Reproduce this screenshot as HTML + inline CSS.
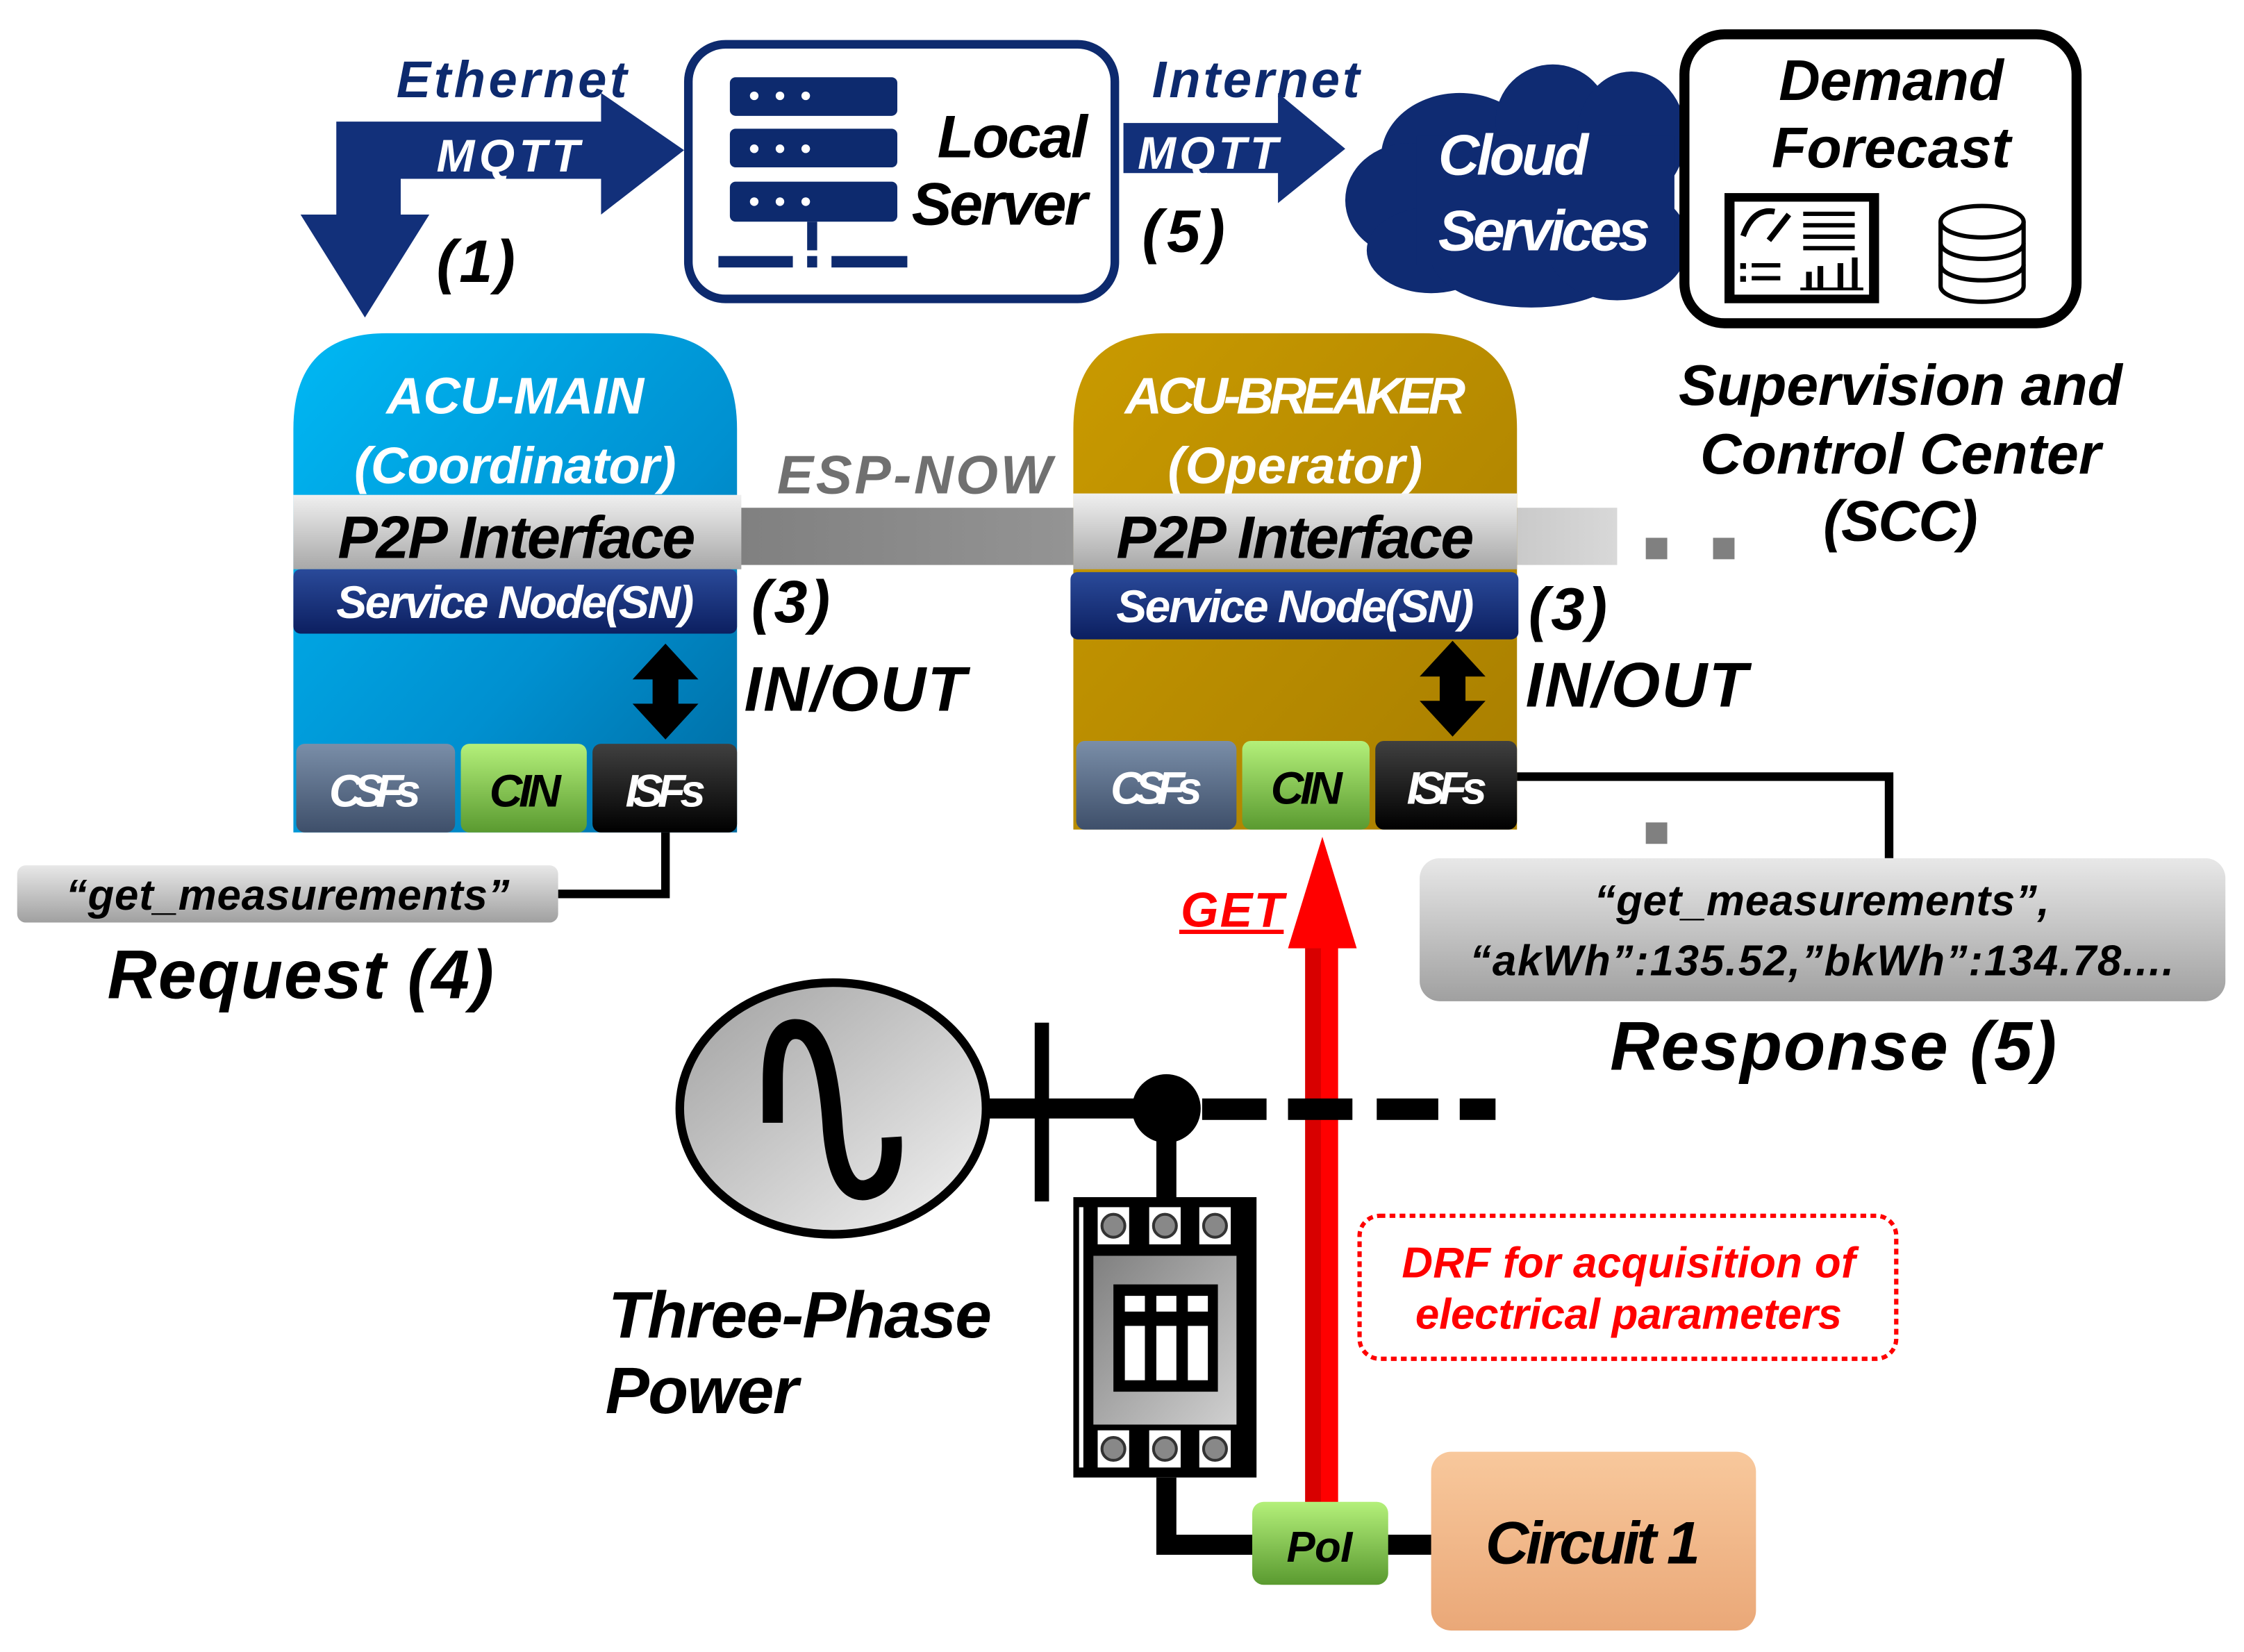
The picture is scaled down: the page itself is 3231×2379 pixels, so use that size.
<!DOCTYPE html>
<html><head><meta charset="utf-8"><style>
html,body{margin:0;padding:0;background:#fff;}
svg{display:block;}
text{font-family:"Liberation Sans Narrow","Liberation Sans",sans-serif;font-weight:bold;font-style:italic;}
</style></head><body>
<svg width="3231" height="2379" viewBox="0 0 1568 1155" preserveAspectRatio="none" xmlns="http://www.w3.org/2000/svg">
<defs>
<linearGradient id="cy" x1="0" y1="0" x2="1" y2="1"><stop offset="0" stop-color="#00b8f4"/><stop offset="0.6" stop-color="#0090d0"/><stop offset="1" stop-color="#006aa0"/></linearGradient>
<linearGradient id="gd" x1="0" y1="0" x2="1" y2="1"><stop offset="0" stop-color="#c99a00"/><stop offset="1" stop-color="#a87e00"/></linearGradient>
<linearGradient id="p2p" x1="0" y1="0" x2="0" y2="1"><stop offset="0" stop-color="#f0f0f0"/><stop offset="1" stop-color="#a8a8a8"/></linearGradient>
<linearGradient id="sn" x1="0" y1="0" x2="0" y2="1"><stop offset="0" stop-color="#2a4a9a"/><stop offset="1" stop-color="#0c1f60"/></linearGradient>
<linearGradient id="csf" x1="0" y1="0" x2="0" y2="1"><stop offset="0" stop-color="#7a8ea8"/><stop offset="1" stop-color="#3e4f6a"/></linearGradient>
<linearGradient id="cin" x1="0" y1="0" x2="0" y2="1"><stop offset="0" stop-color="#b4f07a"/><stop offset="1" stop-color="#5a9a30"/></linearGradient>
<linearGradient id="isf" x1="0" y1="0" x2="0" y2="1"><stop offset="0" stop-color="#404040"/><stop offset="1" stop-color="#000"/></linearGradient>
<linearGradient id="band" x1="0" y1="0" x2="1" y2="0"><stop offset="0" stop-color="#808080"/><stop offset="0.5" stop-color="#9a9a9a"/><stop offset="1" stop-color="#d8d8d8"/></linearGradient>
<linearGradient id="bub" x1="0" y1="0" x2="0" y2="1"><stop offset="0" stop-color="#e8e8e8"/><stop offset="1" stop-color="#a0a0a0"/></linearGradient>
<linearGradient id="gen" x1="0" y1="0" x2="1" y2="1"><stop offset="0" stop-color="#a0a0a0"/><stop offset="1" stop-color="#f4f4f4"/></linearGradient>
<linearGradient id="peach" x1="0" y1="0" x2="0" y2="1"><stop offset="0" stop-color="#f8c89c"/><stop offset="1" stop-color="#eaa878"/></linearGradient>
<linearGradient id="brk" x1="0" y1="0" x2="1" y2="1"><stop offset="0" stop-color="#808080"/><stop offset="1" stop-color="#d0d0d0"/></linearGradient>
</defs>

<!-- Ethernet arrow -->
<text x="277" y="68" font-size="36" fill="#0d2a6e" textLength="161">Ethernet</text>
<path d="M235,85 L420,85 L420,65 L478,105 L420,150 L420,125 L280,125 L280,150 L300,150 L255,222 L210,150 L235,150 Z" fill="#12307a"/>
<text x="305" y="120" font-size="32" fill="#fff" textLength="100">MQTT</text>
<text x="305" y="197" font-size="42" fill="#000" textLength="55">(1)</text>

<!-- Local server -->
<rect x="481" y="31" width="298" height="178" rx="26" fill="#fff" stroke="#0d2a6e" stroke-width="6"/>
<g fill="#0d2a6e">
<rect x="510" y="54" width="117" height="27" rx="4"/>
<rect x="510" y="90" width="117" height="27" rx="4"/>
<rect x="510" y="127" width="117" height="28" rx="4"/>
<rect x="564" y="155" width="7" height="20"/>
<rect x="502" y="179" width="52" height="8"/><rect x="564" y="179" width="7" height="8"/><rect x="581" y="179" width="53" height="8"/>
</g>
<g fill="#fff"><circle cx="527" cy="67" r="3"/><circle cx="545" cy="67" r="3"/><circle cx="563" cy="67" r="3"/>
<circle cx="527" cy="104" r="3"/><circle cx="545" cy="104" r="3"/><circle cx="563" cy="104" r="3"/>
<circle cx="527" cy="141" r="3"/><circle cx="545" cy="141" r="3"/><circle cx="563" cy="141" r="3"/></g>
<text x="655" y="110" font-size="42" fill="#000" textLength="105">Local</text>
<text x="637" y="157" font-size="42" fill="#000" textLength="123">Server</text>

<!-- Internet arrow -->
<text x="805" y="68" font-size="36" fill="#0d2a6e" textLength="145">Internet</text>
<path d="M785,86 L893,86 L893,65 L940,104 L893,142 L893,121 L785,121 Z" fill="#12307a"/>
<text x="795" y="118" font-size="32" fill="#fff" textLength="98">MQTT</text>
<text x="798" y="176" font-size="42" fill="#000" textLength="58">(5)</text>

<!-- Cloud -->
<g fill="#0f2b72">
<ellipse cx="1020" cy="110" rx="55" ry="45"/>
<ellipse cx="1085" cy="85" rx="40" ry="40"/>
<ellipse cx="1140" cy="95" rx="38" ry="45"/>
<ellipse cx="985" cy="140" rx="45" ry="40"/>
<ellipse cx="1000" cy="175" rx="45" ry="30"/>
<ellipse cx="1070" cy="180" rx="70" ry="35"/>
<ellipse cx="1130" cy="170" rx="50" ry="40"/>
<rect x="990" y="95" width="180" height="90"/>
</g>
<text x="1005" y="122" font-size="40" fill="#fff" textLength="105">Cloud</text>
<text x="1005" y="175" font-size="40" fill="#fff" textLength="148">Services</text>

<!-- Demand forecast -->
<rect x="1177" y="24" width="274" height="202" rx="28" fill="#fff" stroke="#000" stroke-width="7"/>
<text x="1243" y="70" font-size="40" fill="#000" textLength="157">Demand</text>
<text x="1238" y="117" font-size="40" fill="#000" textLength="167">Forecast</text>
<rect x="1205" y="135" width="108" height="77" fill="#000"/>
<rect x="1212" y="141" width="94" height="65" fill="#fff"/>
<path d="M1218,165 Q1225,145 1240,148 M1236,168 L1250,150" stroke="#000" stroke-width="4" fill="none"/>
<g fill="#000"><rect x="1260" y="148" width="36" height="3"/><rect x="1260" y="156" width="36" height="3"/><rect x="1260" y="164" width="36" height="3"/><rect x="1260" y="172" width="36" height="3"/>
<rect x="1216" y="184" width="4" height="4"/><rect x="1224" y="184" width="20" height="3"/><rect x="1216" y="193" width="4" height="4"/><rect x="1224" y="193" width="20" height="3"/>
<rect x="1262" y="190" width="4" height="12"/><rect x="1270" y="186" width="4" height="16"/><rect x="1284" y="184" width="4" height="18"/><rect x="1294" y="180" width="4" height="22"/><rect x="1258" y="201" width="44" height="2"/></g>
<g fill="none" stroke="#000" stroke-width="3">
<ellipse cx="1385" cy="155" rx="29" ry="11"/>
<path d="M1356,155 V200 A29,11 0 0 0 1414,200 V155"/>
<path d="M1356,170 A29,11 0 0 0 1414,170"/><path d="M1356,185 A29,11 0 0 0 1414,185"/>
</g>
<text x="1328" y="283" font-size="40" fill="#000" text-anchor="middle" textLength="310">Supervision and</text>
<text x="1328" y="331" font-size="40" fill="#000" text-anchor="middle" textLength="280">Control Center</text>
<text x="1328" y="378" font-size="40" fill="#000" text-anchor="middle" textLength="108">(SCC)</text>

<!-- ESP-NOW band -->
<rect x="515" y="355" width="615" height="40" fill="url(#band)"/>
<text x="543" y="345" font-size="38" fill="#707070" textLength="192">ESP-NOW</text>
<rect x="1150" y="376" width="15" height="15" fill="#808080"/>
<rect x="1197" y="376" width="15" height="15" fill="#808080"/>
<rect x="1150" y="575" width="15" height="15" fill="#808080"/>

<!-- ACU-MAIN -->
<path d="M205,582 V300 Q205,233 270,233 H450 Q515,233 515,300 V582 Z" fill="url(#cy)"/>
<text x="360" y="289" font-size="36" fill="#fff" text-anchor="middle" textLength="180">ACU-MAIN</text>
<text x="360" y="338" font-size="36" fill="#fff" text-anchor="middle" textLength="225">(Coordinator)</text>
<rect x="205" y="346" width="313" height="52" fill="url(#p2p)"/>
<text x="361" y="390" font-size="42" fill="#000" text-anchor="middle" textLength="250">P2P Interface</text>
<rect x="205" y="398" width="310" height="45" rx="5" fill="url(#sn)"/>
<text x="360" y="432" font-size="32" fill="#fff" text-anchor="middle" textLength="250">Service Node(SN)</text>
<path d="M465,450 L488,475 L474,475 L474,492 L488,492 L465,517 L442,492 L456,492 L456,475 L442,475 Z" fill="#000"/>
<rect x="207" y="520" width="111" height="62" rx="6" fill="url(#csf)"/>
<rect x="322" y="520" width="88" height="62" rx="6" fill="url(#cin)"/>
<rect x="414" y="520" width="101" height="62" rx="6" fill="url(#isf)"/>
<text x="262" y="564" font-size="32" fill="#fff" text-anchor="middle" textLength="64">CSFs</text>
<text x="367" y="564" font-size="32" fill="#000" text-anchor="middle" textLength="50">CIN</text>
<text x="465" y="564" font-size="32" fill="#fff" text-anchor="middle" textLength="56">ISFs</text>
<text x="525" y="435" font-size="42" fill="#000" textLength="55">(3)</text>
<text x="520" y="497" font-size="44" fill="#000" textLength="155">IN/OUT</text>

<!-- ACU-BREAKER -->
<path d="M750,580 V300 Q750,233 815,233 H995 Q1060,233 1060,300 V580 Z" fill="url(#gd)"/>
<text x="905" y="289" font-size="36" fill="#fff" text-anchor="middle" textLength="238">ACU-BREAKER</text>
<text x="905" y="338" font-size="36" fill="#fff" text-anchor="middle" textLength="178">(Operator)</text>
<rect x="750" y="345" width="310" height="53" fill="url(#p2p)"/>
<text x="905" y="390" font-size="42" fill="#000" text-anchor="middle" textLength="250">P2P Interface</text>
<rect x="748" y="400" width="313" height="47" rx="5" fill="url(#sn)"/>
<text x="905" y="435" font-size="32" fill="#fff" text-anchor="middle" textLength="250">Service Node(SN)</text>
<path d="M1015,448 L1038,473 L1024,473 L1024,490 L1038,490 L1015,515 L992,490 L1006,490 L1006,473 L992,473 Z" fill="#000"/>
<rect x="752" y="518" width="112" height="62" rx="6" fill="url(#csf)"/>
<rect x="868" y="518" width="89" height="62" rx="6" fill="url(#cin)"/>
<rect x="961" y="518" width="99" height="62" rx="6" fill="url(#isf)"/>
<text x="808" y="562" font-size="32" fill="#fff" text-anchor="middle" textLength="64">CSFs</text>
<text x="913" y="562" font-size="32" fill="#000" text-anchor="middle" textLength="50">CIN</text>
<text x="1011" y="562" font-size="32" fill="#fff" text-anchor="middle" textLength="56">ISFs</text>
<text x="1068" y="440" font-size="42" fill="#000" textLength="55">(3)</text>
<text x="1066" y="494" font-size="44" fill="#000" textLength="155">IN/OUT</text>

<!-- connectors -->
<path d="M1060,543 H1320 V600" stroke="#000" stroke-width="6" fill="none"/>
<path d="M465,582 V625 H390" stroke="#000" stroke-width="6" fill="none"/>

<!-- Request -->
<rect x="12" y="605" width="378" height="40" rx="6" fill="url(#bub)"/>
<text x="201" y="636" font-size="30" fill="#000" text-anchor="middle" textLength="310">“get_measurements”</text>
<text x="75" y="698" font-size="48" fill="#000" textLength="270">Request (4)</text>

<!-- Response -->
<rect x="992" y="600" width="563" height="100" rx="14" fill="url(#bub)"/>
<text x="1273" y="640" font-size="30" fill="#000" text-anchor="middle" textLength="318">“get_measurements”,</text>
<text x="1273" y="682" font-size="30" fill="#000" text-anchor="middle" textLength="492">“akWh”:135.52,”bkWh”:134.78....</text>
<text x="1125" y="748" font-size="48" fill="#000" textLength="312">Response (5)</text>

<!-- GET red arrow -->
<text x="825" y="648" font-size="34" fill="#f00" textLength="72">GET</text>
<rect x="824" y="650" width="73" height="3" fill="#f00"/>
<rect x="912" y="660" width="23" height="392" fill="#f00"/>
<rect x="912" y="660" width="11" height="392" fill="#d80000"/>
<path d="M900,663 L924,585 L948,663 Z" fill="#f00"/>

<!-- Generator -->
<ellipse cx="582" cy="775" rx="107" ry="88" fill="url(#gen)" stroke="#000" stroke-width="6"/>
<path d="M540,785 V755 Q540,715 560,720 Q578,725 582,790 Q586,835 605,832 Q625,828 623,795" stroke="#000" stroke-width="14" fill="none"/>
<rect x="723" y="715" width="10" height="125" fill="#000"/>
<rect x="690" y="768" width="125" height="14" fill="#000"/>
<circle cx="815" cy="775" r="24" fill="#000"/>
<g fill="#000"><rect x="840" y="768" width="45" height="15"/><rect x="900" y="768" width="45" height="15"/><rect x="962" y="768" width="43" height="15"/><rect x="1020" y="768" width="25" height="15"/></g>
<text x="425" y="935" font-size="46" fill="#000" textLength="268">Three-Phase</text>
<text x="423" y="988" font-size="46" fill="#000" textLength="135">Power</text>

<!-- Breaker -->
<rect x="808" y="795" width="14" height="45" fill="#000"/>
<rect x="750" y="837" width="128" height="196" fill="#000"/>
<rect x="754" y="844" width="3" height="182" fill="#fff"/>
<g fill="#fff"><rect x="767" y="844" width="22" height="26"/><rect x="803" y="844" width="22" height="26"/><rect x="838" y="844" width="22" height="26"/>
<rect x="767" y="1000" width="22" height="26"/><rect x="803" y="1000" width="22" height="26"/><rect x="838" y="1000" width="22" height="26"/></g>
<g fill="#888" stroke="#333" stroke-width="2"><circle cx="778" cy="857" r="8"/><circle cx="814" cy="857" r="8"/><circle cx="849" cy="857" r="8"/>
<circle cx="778" cy="1013" r="8"/><circle cx="814" cy="1013" r="8"/><circle cx="849" cy="1013" r="8"/></g>
<rect x="764" y="878" width="100" height="118" fill="url(#brk)"/>
<rect x="778" y="898" width="73" height="75" fill="#000"/>
<g fill="#fff"><rect x="786" y="906" width="14" height="11"/><rect x="808" y="906" width="14" height="11"/><rect x="830" y="906" width="14" height="11"/>
<rect x="786" y="927" width="14" height="38"/><rect x="808" y="927" width="14" height="38"/><rect x="830" y="927" width="14" height="38"/></g>
<path d="M815,1033 V1080 H878" stroke="#000" stroke-width="14" fill="none"/>
<rect x="968" y="1073" width="35" height="14" fill="#000"/>

<!-- PoI -->
<rect x="875" y="1050" width="95" height="58" rx="8" fill="url(#cin)"/>
<text x="922" y="1092" font-size="30" fill="#000" text-anchor="middle" textLength="46">PoI</text>

<!-- Circuit 1 -->
<rect x="1000" y="1015" width="227" height="125" rx="14" fill="url(#peach)"/>
<text x="1113" y="1093" font-size="42" fill="#000" text-anchor="middle" textLength="150">Circuit 1</text>

<!-- DRF -->
<rect x="950" y="850" width="375" height="100" rx="14" fill="none" stroke="#f00" stroke-width="3" stroke-dasharray="4,3"/>
<text x="1138" y="893" font-size="30" fill="#f00" text-anchor="middle" textLength="317">DRF for acquisition of</text>
<text x="1138" y="929" font-size="30" fill="#f00" text-anchor="middle" textLength="298">electrical parameters</text>
</svg>
</body></html>
